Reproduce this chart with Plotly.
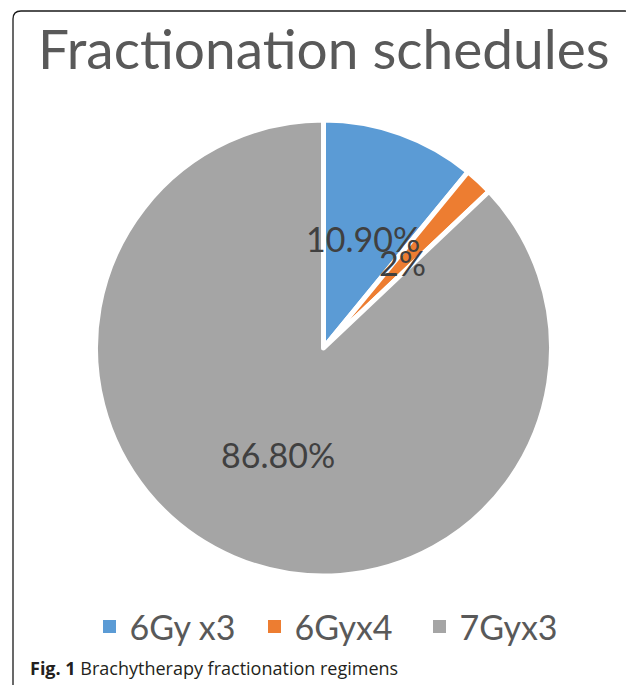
import math
import plotly.graph_objects as go

# ---- data ----
categories = ["6Gy x3", "6Gyx4", "7Gyx3"]
values = [10.9, 2.0, 86.8]
label_texts = ["10.90%", "2%", "86.80%"]
colors = ["#5B9BD5", "#ED7D31", "#A5A5A5"]
title_text = "Fractionation schedules"
caption_bold = "Fig. 1"
caption_rest = "Brachytherapy fractionation regimens"

# page has an 8px body margin; layout positions below are given in page px
OFF = 8
W, H = 626, 677
CX, CY, R = 323.5, 348, 228  # pie centre / radius in page px


def px_x(x):
    return (x - OFF) / W


def px_y(y):
    return 1 - (y - OFF) / H


fig = go.Figure()
fig.add_trace(go.Pie(
    labels=categories,
    values=values,
    sort=False,
    direction="clockwise",
    rotation=0,
    marker=dict(colors=colors, line=dict(color="white", width=5)),
    textinfo="none",
    hoverinfo="label+percent",
    domain=dict(x=[px_x(CX - R), px_x(CX + R)], y=[px_y(CY + R), px_y(CY - R)]),
    showlegend=False,
))

# legend entries (square swatches) for the slices
for cat, col in zip(categories, colors):
    fig.add_trace(go.Scatter(
        x=[None], y=[None], mode="markers", name=cat,
        marker=dict(symbol="square", size=13, color=col),
        hoverinfo="skip", showlegend=True,
    ))

# data labels at mid-angle of each slice, about half radius
total = sum(values)
annotations = []
cum = 0.0
for v, t in zip(values, label_texts):
    mid = (cum + v / 2) / total * 2 * math.pi
    cum += v
    lx = CX + 0.51 * R * math.sin(mid)
    ly = CY - 0.51 * R * math.cos(mid)
    annotations.append(dict(
        x=px_x(lx), y=px_y(ly), xref="paper", yref="paper",
        text=t, showarrow=False, xanchor="center", yanchor="middle",
        font=dict(family="Lato", size=34, color="#404040"),
    ))

annotations.append(dict(
    x=px_x(323.5), y=px_y(48), xref="paper", yref="paper",
    text=title_text, showarrow=False, xanchor="center", yanchor="middle",
    font=dict(family="Lato", size=55, color="#595959"),
))
annotations.append(dict(
    x=px_x(28), y=px_y(668), xref="paper", yref="paper",
    text=f"<b>{caption_bold}</b> {caption_rest}", showarrow=False,
    xanchor="left", yanchor="middle",
    font=dict(family="Open Sans", size=18, color="#231f20"),
))

x0, x1, y0, y1 = 13, 633, 11, 700
rr = 8
path = (f"M {px_x(x0)},{px_y(y1)} L {px_x(x0)},{px_y(y0 + rr)} "
        f"Q {px_x(x0)},{px_y(y0)} {px_x(x0 + rr)},{px_y(y0)} "
        f"L {px_x(x1 - rr)},{px_y(y0)} "
        f"Q {px_x(x1)},{px_y(y0)} {px_x(x1)},{px_y(y0 + rr)} "
        f"L {px_x(x1)},{px_y(y1)}")

fig.update_layout(
    width=W, height=H,
    margin=dict(l=0, r=0, t=0, b=0),
    paper_bgcolor="white",
    plot_bgcolor="white",
    xaxis=dict(visible=False),
    yaxis=dict(visible=False),
    annotations=annotations,
    shapes=[dict(type="path", xref="paper", yref="paper", path=path,
                 line=dict(color="#1a1a1a", width=1.3))],
    legend=dict(
        orientation="h", x=px_x(109.5 - 20), xanchor="left",
        y=px_y(627), yanchor="middle",
        entrywidth=120,
        font=dict(family="Lato", size=34, color="#595959"),
        bgcolor="rgba(0,0,0,0)",
    ),
)

fig.write_html("out.html")
